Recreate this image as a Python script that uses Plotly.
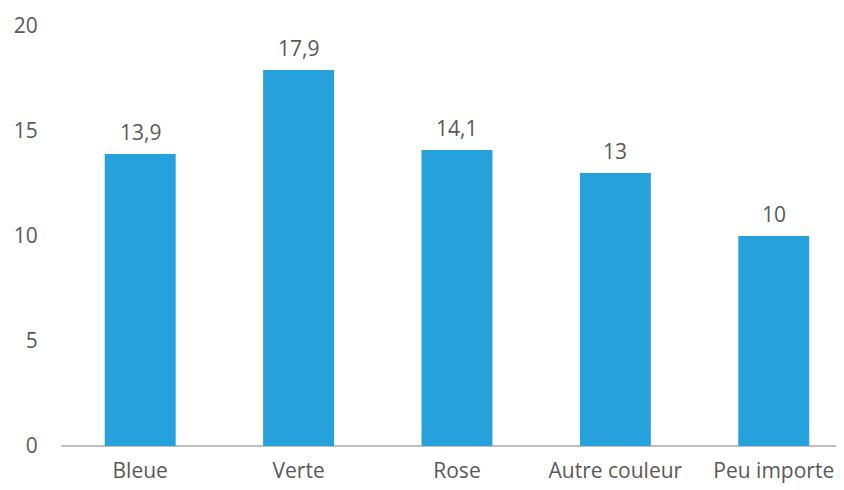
import plotly.graph_objects as go

categories = ["Bleue", "Verte", "Rose", "Autre couleur", "Peu importe"]
values = [13.9, 17.9, 14.1, 13, 10]
y_ticks = [0, 5, 10, 15, 20]

grey = "#595959"

fig = go.Figure()
fig.add_trace(
    go.Bar(
        x=categories,
        y=values,
        marker=dict(color="#27A1DC", line=dict(width=0)),
        width=0.448,
        hoverinfo="skip",
    )
)

# value labels above bars, with decimal comma
for cat, val in zip(categories, values):
    fig.add_annotation(
        x=cat,
        y=val,
        text=f"{val:g}".replace(".", ","),
        showarrow=False,
        yanchor="bottom",
        yshift=6,
        font=dict(size=21, color=grey),
    )

# page body has an 8px margin, so offsets are compensated here
fig.update_layout(
    width=844,
    height=490,
    margin=dict(l=53, r=0, t=18, b=52),
    paper_bgcolor="white",
    plot_bgcolor="white",
    font=dict(family="Open Sans", size=21, color=grey),
    showlegend=False,
)
fig.update_xaxes(
    type="category",
    range=[-0.5, 4.494],
    automargin=False,
    showgrid=False,
    showline=False,
    ticks="outside",
    ticklen=6,
    tickcolor="rgba(0,0,0,0)",
    tickfont=dict(size=21, color=grey),
)
fig.update_yaxes(
    range=[0, 20],
    tickvals=y_ticks,
    automargin=False,
    showgrid=False,
    zeroline=True,
    zerolinecolor="#BFBFBF",
    zerolinewidth=2,
    showline=False,
    ticks="outside",
    ticklen=18,
    tickcolor="rgba(0,0,0,0)",
    tickfont=dict(size=21, color=grey),
)

fig.write_html("out.html")
